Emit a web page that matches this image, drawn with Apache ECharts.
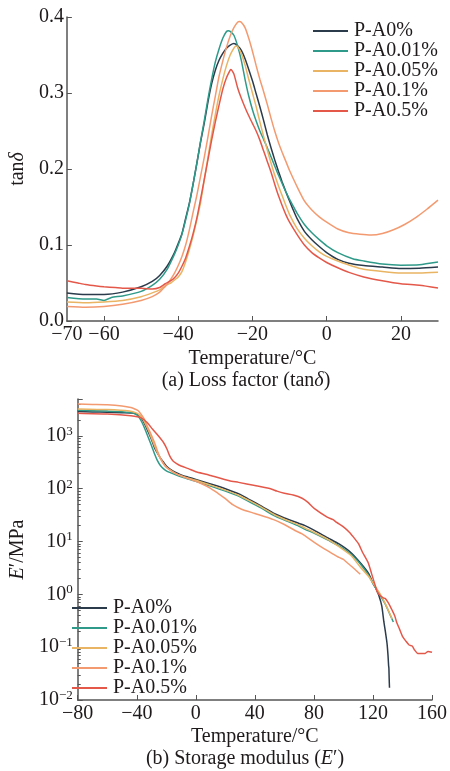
<!DOCTYPE html>
<html>
<head>
<meta charset="utf-8">
<script src="https://cdn.jsdelivr.net/npm/echarts@6/dist/echarts.min.js"></script>
<style>
  html, body { margin: 0; padding: 0; background: #fff; }
  #chart { width: 450px; height: 771px; }
</style>
</head>
<body>
<div id="chart"></div>
<script>
const names = ['P-A0%', 'P-A0.01%', 'P-A0.05%', 'P-A0.1%', 'P-A0.5%']
const colors = ['#2b3b4c', '#2f9a89', '#e9b463', '#f39a70', '#e4584a']

// (a) loss factor, [temperature, tan delta]
const tanA0 = [[-70,0.037],[-65,0.035],[-60,0.035],[-55,0.038],[-50,0.045],[-47,0.052],[-45,0.060],[-43,0.072],[-41,0.09],[-40,0.102],[-39,0.115],[-38,0.135],[-37,0.155],[-36,0.18],[-35,0.207],[-34,0.235],[-33,0.26],[-32,0.288],[-31,0.312],[-30,0.33],[-29,0.343],[-28,0.352],[-27,0.359],[-26,0.363],[-25,0.365],[-24,0.362],[-23,0.356],[-22,0.345],[-21,0.331],[-20,0.316],[-19,0.299],[-18,0.282],[-17,0.264],[-16,0.245],[-15,0.228],[-14,0.212],[-13,0.197],[-12,0.183],[-11,0.17],[-10,0.158],[-9,0.146],[-8,0.135],[-6,0.118],[-4,0.107],[-2,0.098],[0,0.09],[3,0.081],[6,0.076],[10,0.073],[15,0.071],[20,0.069],[25,0.0695],[30,0.071]]
const tanA001 = [[-70,0.031],[-65,0.029],[-62,0.029],[-60,0.027],[-58,0.031],[-55,0.033],[-50,0.039],[-47,0.047],[-45,0.055],[-43,0.068],[-41,0.088],[-40,0.1],[-39,0.114],[-38,0.133],[-37,0.154],[-36,0.18],[-35,0.207],[-34,0.236],[-33,0.263],[-32,0.292],[-31,0.318],[-30,0.341],[-29,0.358],[-28,0.372],[-27,0.381],[-26.5,0.382],[-26,0.381],[-25,0.376],[-24,0.362],[-23,0.343],[-22,0.318],[-21,0.296],[-20,0.278],[-19,0.263],[-18,0.25],[-17,0.239],[-16,0.228],[-15,0.216],[-14,0.204],[-13,0.192],[-12,0.181],[-11,0.17],[-10,0.16],[-9,0.151],[-8,0.142],[-6,0.127],[-4,0.116],[-2,0.107],[0,0.099],[3,0.09],[7,0.082],[10,0.079],[15,0.075],[20,0.0735],[25,0.074],[30,0.0775]]
const tanA005 = [[-70,0.025],[-65,0.024],[-60,0.025],[-55,0.027],[-50,0.032],[-47,0.037],[-45,0.041],[-43,0.048],[-42,0.05],[-41,0.054],[-40,0.058],[-39,0.065],[-38,0.078],[-37,0.094],[-36,0.112],[-35,0.133],[-34,0.155],[-33,0.185],[-32,0.215],[-31,0.245],[-30,0.272],[-29,0.297],[-28,0.318],[-27,0.336],[-26,0.35],[-25,0.359],[-24.5,0.362],[-24,0.361],[-23,0.352],[-22,0.337],[-21,0.318],[-20,0.3],[-19,0.282],[-18,0.262],[-17,0.243],[-16,0.225],[-15,0.208],[-14,0.192],[-13,0.178],[-12,0.165],[-11,0.152],[-10,0.14],[-8,0.122],[-6,0.109],[-4,0.099],[-2,0.091],[0,0.085],[3,0.079],[7,0.072],[10,0.068],[15,0.065],[20,0.063],[25,0.063],[30,0.064]]
const tanA01 = [[-70,0.019],[-65,0.018],[-60,0.019],[-55,0.022],[-50,0.027],[-47,0.032],[-45,0.038],[-44,0.043],[-43,0.048],[-42,0.055],[-41,0.063],[-40,0.073],[-39,0.085],[-38,0.1],[-37,0.12],[-36,0.143],[-35,0.165],[-34,0.19],[-33,0.215],[-32,0.242],[-31,0.27],[-30,0.296],[-29,0.322],[-28,0.342],[-27,0.36],[-26,0.375],[-25,0.386],[-24,0.393],[-23.5,0.394],[-23,0.393],[-22,0.386],[-21,0.372],[-20,0.355],[-19,0.336],[-18,0.318],[-17,0.302],[-16,0.285],[-15,0.267],[-14,0.25],[-13,0.235],[-12,0.222],[-11,0.21],[-10,0.198],[-8,0.177],[-6,0.158],[-4,0.146],[-2,0.137],[0,0.13],[3,0.121],[6,0.116],[9,0.114],[12,0.113],[15,0.115],[18,0.12],[21,0.127],[24,0.136],[27,0.147],[30,0.159]]
const tanA05 = [[-70,0.053],[-67,0.05],[-65,0.048],[-62,0.046],[-60,0.045],[-57,0.044],[-55,0.043],[-52,0.043],[-50,0.043],[-47,0.042],[-45,0.044],[-43.5,0.049],[-42,0.053],[-41,0.057],[-40,0.063],[-39,0.072],[-38,0.083],[-37,0.098],[-36,0.115],[-35,0.135],[-34,0.16],[-33,0.186],[-32,0.212],[-31,0.238],[-30,0.262],[-29,0.284],[-28,0.305],[-27,0.32],[-26,0.33],[-25.8,0.331],[-25,0.325],[-24,0.307],[-23,0.293],[-22,0.281],[-21,0.27],[-20,0.26],[-19,0.25],[-18,0.238],[-17,0.224],[-16,0.21],[-15,0.196],[-14,0.18],[-13,0.165],[-12,0.152],[-11,0.14],[-10,0.13],[-8,0.114],[-6,0.1],[-4,0.09],[-2,0.083],[0,0.077],[3,0.07],[6,0.064],[10,0.058],[15,0.053],[20,0.049],[25,0.047],[30,0.0435]]

// (b) storage modulus, [temperature, E' in MPa]
const modA0 = [[-80,2900],[-70,2850],[-60,2800],[-50,2750],[-42,2700],[-38,2400],[-36,2000],[-34,1550],[-32,1150],[-30,850],[-28,600],[-26,470],[-24,380],[-22,320],[-20,270],[-17,230],[-14,205],[-10,182],[-5,165],[0,150],[10,123],[20,100],[30,78],[36,63],[45,46],[53,34],[60,28],[70,22],[74,20],[80,16.5],[90,11.5],[97,9],[105,6.2],[112,3.8],[117,2.5],[120,1.65],[122,1.3],[124,0.95],[126,0.6],[127.4,0.3],[128.5,0.19],[129.5,0.12],[130.2,0.07],[130.6,0.045],[130.8,0.04],[131,0.025],[131.2,0.017]]
const modA001 = [[-80,3050],[-60,2950],[-45,2800],[-40,2500],[-38,2150],[-36,1700],[-34,1250],[-32,900],[-30,650],[-28,460],[-26,340],[-24,275],[-22,240],[-20,218],[-17,200],[-14,185],[-10,168],[-5,152],[0,138],[10,112],[20,90],[30,70],[36,57],[45,42],[53,31],[60,25.5],[70,19.5],[74,17],[80,14.5],[90,10.5],[97,8.3],[105,5.8],[112,3.6],[117,2.3],[120,1.6],[122,1.3],[125,0.95],[128,0.68],[131,0.45],[133.8,0.3]]
const modA005 = [[-80,3250],[-60,3150],[-45,2950],[-40,2700],[-38,2450],[-36,2100],[-34,1650],[-32,1250],[-30,900],[-28,650],[-26,480],[-24,370],[-22,300],[-20,255],[-17,222],[-14,198],[-10,176],[-5,158],[0,145],[10,117],[20,94],[30,73],[36,60],[45,44],[53,32.5],[60,26.5],[70,20.5],[74,18],[80,15],[90,10.8],[97,8],[105,5.5],[111.4,3.3],[117,2.2],[120,1.65],[122,1.35],[125,1.0],[128,0.7],[131.6,0.42],[133,0.34]]
const modA01 = [[-80,4000],[-70,3950],[-60,3900],[-50,3700],[-44,3450],[-41,3200],[-39,3000],[-37,2550],[-35,2100],[-33,1550],[-30.5,1100],[-28,750],[-26,520],[-24,380],[-22,300],[-20,255],[-17,220],[-14,195],[-10,175],[-5,155],[0,138],[5,120],[10,102],[15,82],[20,65],[25,50],[31,41],[40,34],[52.7,26],[60,21],[67.6,16],[72,14],[80,9.8],[86,7.6],[93,5.8],[97,5],[100,4.6],[102,4.1],[106,3.3],[111.4,2.4]]
const modA05 = [[-80,2700],[-60,2600],[-44,2400],[-37,2200],[-33,1800],[-29.4,1350],[-26,1050],[-22,760],[-19.5,560],[-17.7,420],[-15.6,340],[-13,300],[-10,270],[-5,240],[0,210],[7,188],[10,178],[22.8,141],[29,132],[40,115],[50.6,100],[55,90],[60,82],[66,76],[72,66],[76,55],[80.4,42],[89,29],[93,26],[95.4,23],[100,19],[104,15],[108,11],[110.3,9],[113,6.2],[116.7,4],[119,2.5],[121,1.65],[123,1.1],[125.2,0.93],[127,0.86],[128.4,0.83],[130,0.72],[131.6,0.6],[133,0.5],[134.8,0.39],[136,0.3],[138,0.22],[140,0.16],[142.3,0.13],[144.5,0.11],[146.6,0.105],[148,0.09],[150.4,0.076],[153,0.076],[155.1,0.076],[157.3,0.083],[160,0.08]]

const tanData = [tanA0, tanA001, tanA005, tanA01, tanA05]
const modData = [modA0, modA001, modA005, modA01, modA05]

const font = 'Liberation Serif'
const fs = 20
const ink = '#1e1a1b'
const axisColor = '#555'

function minus(v) {
  return v < 0 ? '\u2212' + (-v) : '' + v
}

const series = []
tanData.forEach((d, i) => {
  series.push({ name: names[i], type: 'line', xAxisIndex: 0, yAxisIndex: 0, data: d,
    showSymbol: false, smooth: 0.2, lineStyle: { width: 1.5, color: colors[i] }, itemStyle: { color: colors[i] } })
})
modData.forEach((d, i) => {
  series.push({ name: names[i], type: 'line', xAxisIndex: 1, yAxisIndex: 1, data: d,
    showSymbol: false, smooth: 0.2, lineStyle: { width: 1.5, color: colors[i] }, itemStyle: { color: colors[i] } })
})

const legendBase = {
  orient: 'vertical',
  icon: 'rect',
  itemWidth: 35,
  itemHeight: 2,
  itemGap: 0,
  textStyle: { fontFamily: font, fontSize: fs, color: ink, lineHeight: 19.5, padding: [0, 0, 0, 1] },
  data: names
}

const italic = { i: { fontFamily: font, fontSize: fs, fontStyle: 'italic', color: ink } }

const option = {
  animation: false,
  backgroundColor: '#fff',
  textStyle: { fontFamily: font },
  grid: [
    { left: 58, top: 17, width: 380, height: 304 },
    { left: 60, top: 399, width: 375, height: 301 }
  ],
  legend: [
    Object.assign({ left: 308, top: 16 }, legendBase),
    Object.assign({ left: 67, top: 593 }, legendBase)
  ],
  xAxis: [
    {
      type: 'value', gridIndex: 0, min: -70, max: 30,
      name: 'Temperature/°C', nameLocation: 'middle', nameGap: 28,
      nameTextStyle: { fontFamily: font, fontSize: fs, color: ink },
      axisLine: { onZero: false, lineStyle: { color: axisColor, width: 1.5 } },
      axisTick: { inside: true, length: 5, lineStyle: { color: axisColor }, customValues: [-60, -40, -20, 0, 20] },
      axisLabel: { fontFamily: font, fontSize: fs, color: ink, margin: 4, customValues: [-70, -60, -40, -20, 0, 20], formatter: minus },
      splitLine: { show: false }
    },
    {
      type: 'value', gridIndex: 1, min: -80, max: 160, interval: 40,
      name: 'Temperature/°C', nameLocation: 'middle', nameGap: 27,
      nameTextStyle: { fontFamily: font, fontSize: fs, color: ink },
      axisLine: { onZero: false, lineStyle: { color: axisColor, width: 1.5 } },
      axisTick: { inside: true, length: 5, lineStyle: { color: axisColor } },
      axisLabel: { fontFamily: font, fontSize: fs, color: ink, margin: 4, formatter: minus },
      splitLine: { show: false }
    }
  ],
  yAxis: [
    {
      type: 'value', gridIndex: 0, min: 0, max: 0.4, interval: 0.1,
      name: 'tan{i|δ}', nameLocation: 'middle', nameGap: 29,
      nameTextStyle: { fontFamily: font, fontSize: fs, color: ink, rich: italic },
      axisLine: { show: true, onZero: false, lineStyle: { color: axisColor, width: 1.5 } },
      axisTick: { show: true, inside: true, length: 5, lineStyle: { color: axisColor } },
      axisLabel: { fontFamily: font, fontSize: fs, color: ink, margin: 3, formatter: v => v.toFixed(1) },
      splitLine: { show: false }
    },
    {
      type: 'log', gridIndex: 1, min: 0.01, max: 5000, logBase: 10,
      name: '{i|E}′/MPa', nameLocation: 'middle', nameGap: 31,
      nameTextStyle: { fontFamily: font, fontSize: fs, color: ink, rich: italic },
      axisLine: { show: true, onZero: false, lineStyle: { color: axisColor, width: 1.5 } },
      axisTick: { show: true, inside: true, length: 5, lineStyle: { color: axisColor } },
      minorTick: { show: true, splitNumber: 9, length: 3, lineStyle: { color: axisColor } },
      axisLabel: {
        fontFamily: font, fontSize: fs, color: ink, margin: 5,
        formatter: v => {
          const e = Math.round(Math.log10(v))
          if (Math.abs(Math.log10(v) - e) > 1e-6) return ''
          return '10{s|' + minus(e) + '}'
        },
        rich: { s: { fontFamily: font, fontSize: 13, color: ink, verticalAlign: 'top', padding: [0, 0, 9, 0] } }
      },
      splitLine: { show: false }
    }
  ],
  graphic: [
    { type: 'text', x: 246, y: 381, style: { text: '(a) Loss factor (tan{i|δ})', font: fs + 'px "Liberation Serif"', fill: ink, align: 'center', verticalAlign: 'middle',
      rich: { i: { fontFamily: font, fontSize: fs, fontStyle: 'italic', fill: ink } } } },
    { type: 'text', x: 245, y: 759, style: { text: '(b) Storage modulus ({i|E}′)', font: fs + 'px "Liberation Serif"', fill: ink, align: 'center', verticalAlign: 'middle',
      rich: { i: { fontFamily: font, fontSize: fs, fontStyle: 'italic', fill: ink } } } }
  ],
  series: series
}

const chart = echarts.init(document.getElementById('chart'))
chart.setOption(option)
</script>
</body>
</html>
